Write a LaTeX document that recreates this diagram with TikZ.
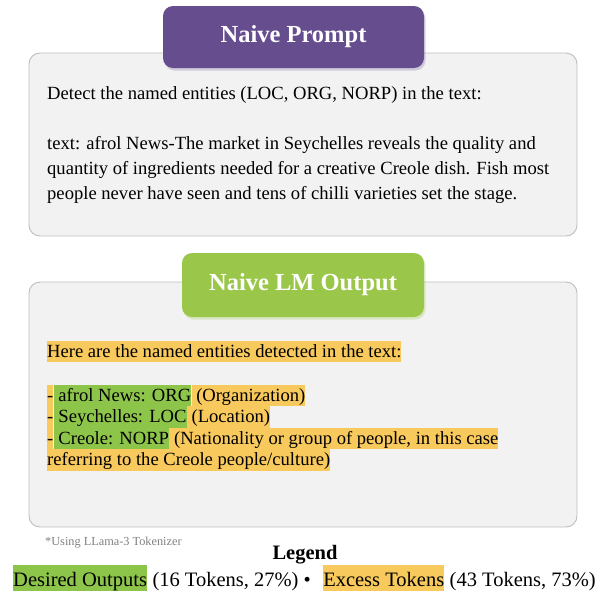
\documentclass[tikz,border=0pt]{standalone}
\usepackage{fontspec}
\setmainfont{Liberation Serif}
\usetikzlibrary{positioning}
\usetikzlibrary{shadows}

\definecolor{promptpurple}{RGB}{101,77,142}
\definecolor{outgreen}{RGB}{154,199,74}
\definecolor{hlgreen}{RGB}{141,196,74}
\definecolor{hlorange}{RGB}{248,201,92}
\definecolor{panelfill}{RGB}{242,242,242}
\definecolor{paneldraw}{RGB}{190,190,190}
\definecolor{notegray}{RGB}{128,128,128}

\newcommand{\bodysize}{\fontsize{18.6}{21.5}\selectfont}
\newcommand{\titlesize}{\fontsize{24.5}{28}\selectfont\bfseries}
\newcommand{\legendsize}{\fontsize{20.5}{24}\selectfont}
\newcommand{\notesize}{\fontsize{12.3}{14}\selectfont}

\begin{document}
\begin{tikzpicture}[x=1pt,y=-1pt,
    panel/.style={draw=paneldraw, fill=panelfill, line width=0.9pt, rounded corners=11pt},
    banner/.style={rounded corners=10pt, text=white, font=\titlesize, inner sep=0pt},
    txt/.style={inner sep=0pt, anchor=base west, font=\bodysize},
    hl/.style={inner sep=0pt, font=\bodysize, text height=16.5pt, text depth=5pt},
    hlo/.style={hl, fill=hlorange},
    hlg/.style={hl, fill=hlgreen},
    lg/.style={inner sep=0pt, font=\legendsize, text height=21pt, text depth=5pt},
]
    \useasboundingbox (0,0) rectangle (606,590);

    % Panels
    \draw[panel] (29,53) rectangle (577,236);
    \draw[panel] (29,282) rectangle (577,527);

    % Banners
    \node[banner, fill=promptpurple, minimum width=261pt, minimum height=62pt,
          drop shadow={shadow xshift=1.5pt, shadow yshift=-2.5pt, opacity=0.35, fill=promptpurple!70}]
          (prompt) at (293.5,37) {Naive Prompt};
    \node[banner, fill=outgreen, minimum width=242pt, minimum height=64pt,
          drop shadow={shadow xshift=1.5pt, shadow yshift=-2.5pt, opacity=0.35, fill=outgreen!80}]
          (output) at (303,285) {Naive LM Output};

    % Prompt text
    \node[txt] (p1) at (47,99)  {Detect the named entities (LOC, ORG, NORP) in the text:};
    \node[txt] (p2) at (47,149) {text: afrol News-The market in Seychelles reveals the quality and};
    \node[txt] (p3) at (47,174) {quantity of ingredients needed for a creative Creole dish. Fish most};
    \node[txt] (p4) at (47,199) {people never have seen and tens of chilli varieties set the stage.};

    % Output text
    \node[hlo, anchor=base west] (o1) at (47,357) {Here are the named entities detected in the text:};

    \node[hlo, anchor=base west] (o2a) at (47,401) {-};
    \node[hlg, right=0pt of o2a] (o2b) {\ afrol News: ORG};
    \node[hlo, right=0pt of o2b] (o2c) {\ (Organization)};

    \node[hlo, anchor=base west] (o3a) at (47,422.5) {-};
    \node[hlg, right=0pt of o3a] (o3b) {\ Seychelles: LOC};
    \node[hlo, right=0pt of o3b] (o3c) {\ (Location)};

    \node[hlo, anchor=base west] (o4a) at (47,444) {-};
    \node[hlg, right=0pt of o4a] (o4b) {\ Creole: NORP};
    \node[hlo, right=0pt of o4b] (o4c) {\ (Nationality or group of people, in this case};

    \node[hlo, anchor=base west] (o5) at (47,465.5) {referring to the Creole people/culture)};

    % Footnote and legend
    \node[font=\notesize, text=notegray, anchor=base west, inner sep=0pt] (note) at (45,545) {*Using LLama-3 Tokenizer};
    \node[font=\legendsize\bfseries, anchor=base, inner sep=0pt] (legend) at (305,559) {Legend};

    \node[lg, fill=hlgreen, anchor=base west] (desired) at (13,586) {Desired Outputs};
    \node[lg, right=0pt of desired] (desiredn) {\ (16 Tokens, 27\%) \textbullet\hspace{12pt}\null};
    \node[lg, fill=hlorange, right=0pt of desiredn] (excess) {Excess Tokens};
    \node[lg, right=0pt of excess] (excessn) {\ (43 Tokens, 73\%)};
\end{tikzpicture}
\end{document}
